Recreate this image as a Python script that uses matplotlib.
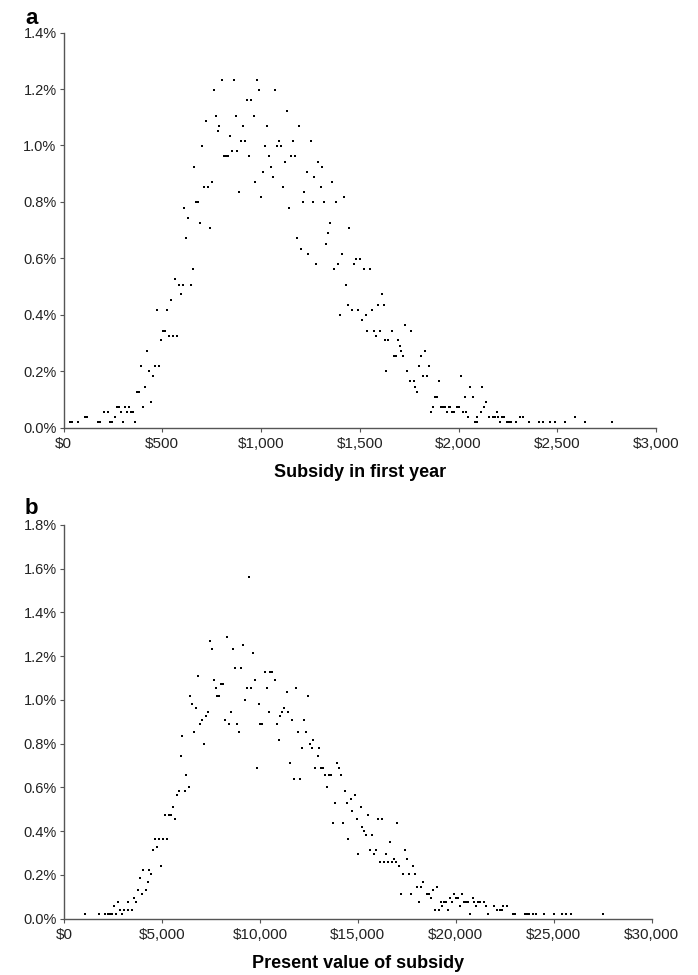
import matplotlib
matplotlib.use("Agg")
import matplotlib.pyplot as plt
from matplotlib.ticker import FuncFormatter

plt.rcParams["font.family"] = ["Liberation Sans", "DejaVu Sans"]

# Panel a: share of households (%) at each level, with the first-year subsidies ($) at that level
a_levels = [1.233, 1.197, 1.160, 1.124, 1.106, 1.087, 1.070, 1.051, 1.033, 1.015,
            0.997, 0.979, 0.961, 0.942, 0.925, 0.907, 0.888, 0.870, 0.852, 0.835,
            0.817, 0.798, 0.780, 0.744, 0.725, 0.707, 0.690, 0.671, 0.652, 0.634,
            0.617, 0.598, 0.580, 0.561, 0.526, 0.507, 0.472, 0.452, 0.435, 0.417,
            0.398, 0.381, 0.363, 0.344, 0.326, 0.309, 0.290, 0.272, 0.253, 0.218,
            0.200, 0.181, 0.164, 0.145, 0.127, 0.108, 0.090, 0.072, 0.054, 0.036,
            0.018]
a_subsidy = [
    [800, 861, 981], [760, 991, 1072], [928, 949], [1131], [773, 871, 962], [721],
    [788, 911, 1031, 1192], [780], [841], [898, 920, 1090, 1163, 1251],
    [701, 1020, 1080, 1101], [854, 879], [812, 822, 832, 940, 1041, 1150, 1171],
    [1121, 1289], [662, 1050, 1308], [1009, 1231], [1060, 1270], [751, 971, 1360],
    [711, 731, 1111, 1301], [890, 1219], [1001, 1419],
    [672, 682, 1210, 1261, 1320, 1380], [611, 1140], [632], [691, 1350], [741, 1447],
    [1340], [621, 1180], [1330], [1200], [1240, 1411], [1480, 1500],
    [1280, 1391, 1470], [654, 1370, 1521, 1551], [563], [583, 603, 644, 1431],
    [593, 1612], [542], [1441, 1591, 1622], [472, 522, 1461, 1490, 1561],
    [1401, 1532], [1510], [1730], [502, 512, 1537, 1571, 1601, 1662, 1760],
    [532, 553, 573, 1581], [492, 1630, 1645, 1691], [1701], [421, 1711, 1829],
    [1671, 1681, 1721, 1810], [391, 461, 482, 1800, 1851], [431, 1632, 1740],
    [451, 1821, 1841, 2011], [1752, 1772, 1902], [411, 1780, 2060, 2121],
    [370, 381, 1790], [1881, 1891, 2030, 2071], [441, 2141],
    [272, 282, 313, 333, 401, 1871, 1909, 1920, 1932, 1949, 1959, 1990, 2000, 2131],
    [205, 225, 292, 323, 343, 353, 1861, 1942, 1969, 1979, 2020, 2040, 2111, 2192],
    [110, 120, 262, 2050, 2091, 2152, 2172, 2182, 2202, 2222, 2232, 2313, 2324, 2590],
    [33, 43, 73, 175, 185, 235, 245, 303, 363, 2081, 2091, 2212, 2243, 2253, 2263,
     2293, 2354, 2405, 2428, 2465, 2489, 2539, 2640, 2779],
]

# Panel b: share of households (%) at each level, with the present values ($) at that level
b_levels = [1.561, 1.288, 1.270, 1.253, 1.234, 1.216, 1.145, 1.126, 1.107, 1.090,
            1.072, 1.053, 1.035, 1.017, 0.999, 0.981, 0.962, 0.945, 0.927, 0.908,
            0.890, 0.855, 0.837, 0.818, 0.800, 0.782, 0.745, 0.710, 0.691, 0.655,
            0.637, 0.601, 0.583, 0.565, 0.546, 0.528, 0.509, 0.494, 0.474, 0.456,
            0.438, 0.421, 0.402, 0.384, 0.365, 0.349, 0.330, 0.312, 0.294, 0.275,
            0.258, 0.239, 0.221, 0.203, 0.185, 0.167, 0.147, 0.130, 0.112, 0.093,
            0.075, 0.057, 0.039, 0.020]
b_value = [
    [9435], [8339], [7431], [9144], [7548, 8645], [9654], [8736, 9042],
    [10236, 10540, 10640], [6860], [7650, 9751, 10746], [8033, 8135],
    [7742, 9348, 9552, 10338, 11847], [11358], [6441, 7818, 7920, 12444], [9246],
    [6543, 9930], [6747, 11235], [7344, 8543, 10440, 11118, 11450], [7242, 11042],
    [7038, 8237, 11638, 12240], [6936, 8440, 8838, 10020, 10120, 10848],
    [6645, 8940, 11944, 12342], [6033], [10950, 12735], [7140, 12546],
    [12138, 12638, 13041], [5952, 12944], [11552, 13933],
    [9843, 12837, 13143, 13245, 14035], [6237, 13336, 13540, 13633, 14142],
    [11730, 12036], [6360, 13438], [5880, 6156, 14331], [5773, 14841], [14663],
    [13836, 14443], [5569, 15147], [14724], [5166, 5370, 5472, 15519],
    [5671, 14933, 16014, 16218], [13729, 14239, 17019], [15213], [15315],
    [15417, 15723], [4656, 4860, 5059, 5268, 14520], [16626], [4769],
    [4565, 15621, 15927, 17417], [15030, 15825, 16422], [16830, 17519],
    [16116, 16320, 16524, 16728, 16932], [4947, 17121, 17825], [4055, 4361],
    [4463, 17325, 17621, 17927], [3861], [4269, 18335], [18029, 18233, 19023],
    [3759, 4167, 18819], [3963, 17223, 17723, 18513, 18615, 19916, 20313],
    [3555, 18717, 19712, 20018, 20120, 20860],
    [2769, 3264, 3672, 18130, 19227, 19416, 19518, 19814, 20415, 20517, 20619,
     20910, 21114, 21216, 21420],
    [2565, 19304, 20222, 21022, 21522, 21930, 22425, 22629],
    [2856, 3060, 3264, 3468, 18921, 19125, 19620, 22119, 22236, 22338],
    [1071, 1785, 2076, 2259, 2361, 2463, 2667, 2958, 20721, 21624, 22935, 23037,
     23511, 23613, 23715, 23919, 24108, 24516, 25026, 25398, 25602, 25893, 27489],
]

a_xticks = [0, 500, 1000, 1500, 2000, 2500, 3000]
a_yticks = [0.0, 0.2, 0.4, 0.6, 0.8, 1.0, 1.2, 1.4]
b_xticks = [0, 5000, 10000, 15000, 20000, 25000, 30000]
b_yticks = [0.0, 0.2, 0.4, 0.6, 0.8, 1.0, 1.2, 1.4, 1.6, 1.8]


def flatten(levels, groups):
    xs, ys = [], []
    for level, group in zip(levels, groups):
        xs.extend(group)
        ys.extend([level] * len(group))
    return xs, ys


def style_axis(ax, xticks, yticks, xlabel):
    ax.set_xlim(xticks[0], xticks[-1])
    ax.set_ylim(yticks[0], yticks[-1])
    ax.set_xticks(xticks)
    ax.set_yticks(yticks)
    ax.xaxis.set_major_formatter(FuncFormatter(lambda v, _: f"${v:,.0f}"))
    ax.yaxis.set_major_formatter(FuncFormatter(lambda v, _: f"{v:.1f}%"))
    for side in ("top", "right"):
        ax.spines[side].set_visible(False)
    for side in ("left", "bottom"):
        ax.spines[side].set_color("#555555")
        ax.spines[side].set_linewidth(1.0)
    ax.tick_params(axis="y", length=3, width=0.8, color="#555555", pad=2,
                   labelsize=10.5, labelcolor="#222222")
    ax.tick_params(axis="x", length=3, width=0.8, color="#555555", pad=4,
                   labelsize=11, labelcolor="#222222")
    for lab in ax.get_yticklabels():
        lab.set_verticalalignment("center_baseline")
    ax.set_xlabel(xlabel, fontsize=13, fontweight="bold", labelpad=9)


fig = plt.figure(figsize=(6.98, 9.75), dpi=100)
ax_a = fig.add_axes([0.091, 0.5615, 0.849, 0.405])
ax_b = fig.add_axes([0.0917, 0.0577, 0.842, 0.404])

xa, ya = flatten(a_levels, a_subsidy)
ax_a.scatter(xa, ya, s=3.5, marker="s", c="black", linewidths=0, clip_on=False)
style_axis(ax_a, a_xticks, a_yticks, "Subsidy in first year")

xb, yb = flatten(b_levels, b_value)
ax_b.scatter(xb, yb, s=3.5, marker="s", c="black", linewidths=0, clip_on=False)
style_axis(ax_b, b_xticks, b_yticks, "Present value of subsidy")

fig.text(25 / 698, 1 - 24 / 975, "a", fontsize=16, fontweight="bold", va="baseline")
fig.text(25 / 698, 1 - 514 / 975, "b", fontsize=16, fontweight="bold", va="baseline")

fig.savefig("out.png", dpi=100)
